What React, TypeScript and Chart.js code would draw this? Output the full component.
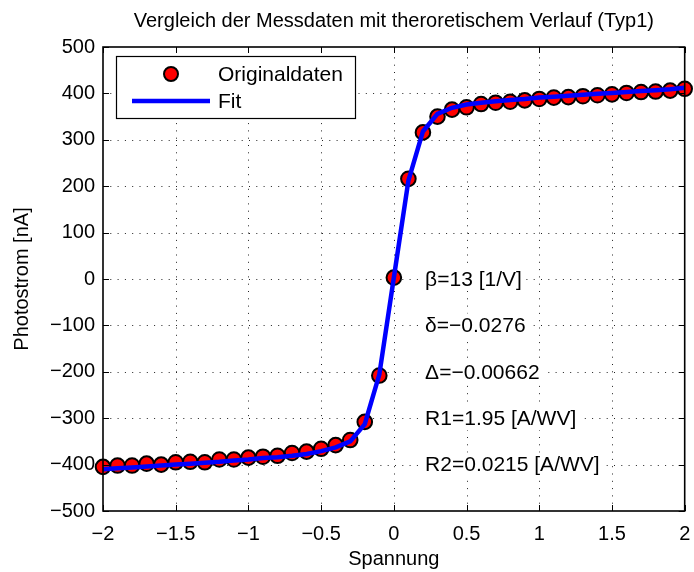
import React, { useEffect, useRef } from "react";
import { Chart, registerables } from "chart.js";

Chart.register(...registerables);

const TITLE = "Vergleich der Messdaten mit theroretischem Verlauf (Typ1)";
const X_LABEL = "Spannung";
const Y_LABEL = "Photostrom [nA]";
const LEGEND_LABELS = ["Originaldaten", "Fit"];

const xValues = [
  -2, -1.9, -1.8, -1.7, -1.6, -1.5, -1.4, -1.3, -1.2, -1.1, -1, -0.9, -0.8, -0.7, -0.6, -0.5, -0.4,
  -0.3, -0.2, -0.1, 0, 0.1, 0.2, 0.3, 0.4, 0.5, 0.6, 0.7, 0.8, 0.9, 1, 1.1, 1.2, 1.3, 1.4, 1.5, 1.6,
  1.7, 1.8, 1.9, 2,
];
const measured = [
  -405, -402, -402, -398, -400, -395, -394, -395, -389, -389, -385, -383, -381, -375, -372, -366,
  -358, -347, -308, -208, 3, 216, 316, 350, 365, 370, 377, 380, 382, 385, 388, 391, 392, 394, 396,
  398, 401, 403, 404, 406, 410,
];
const fitted = [
  -410, -408, -406, -404, -402, -400, -398, -396, -394, -391, -389, -386, -384, -381, -377, -371,
  -363, -350, -313, -206, 3, 212, 318, 356, 369, 376, 380, 383, 386, 388, 391, 393, 395, 397, 399,
  401, 403, 405, 407, 409, 412,
];

const xTicks = [-2, -1.5, -1, -0.5, 0, 0.5, 1, 1.5, 2];
const yTicks = [-500, -400, -300, -200, -100, 0, 100, 200, 300, 400, 500];

const annotationTexts = ["β=13 [1/V]", "δ=−0.0276", "Δ=−0.00662", "R1=1.95 [A/WV]", "R2=0.0215 [A/WV]"];
const annotationY = [0, -100, -200, -300, -400];
const annotationX = 0.215;

const FONT = "'Liberation Sans', Arial, Helvetica, sans-serif";
const FS = 20;

const fmt = (v: number) => (v < 0 ? "\u2212" + String(-v) : String(v));

export default function App() {
  const ref = useRef<HTMLCanvasElement | null>(null);

  useEffect(() => {
    if (!ref.current) return;

    const overlay = {
      id: "matlabOverlay",
      beforeDatasetsDraw(chart: any) {
        const { ctx, chartArea: a, scales } = chart;
        const xs = scales.x;
        const ys = scales.y;
        ctx.save();
        ctx.strokeStyle = "#222";
        ctx.lineWidth = 1;
        ctx.setLineDash([1, 6.3]);
        xTicks.forEach((t) => {
          const px = Math.round(xs.getPixelForValue(t)) + 0.5;
          if (px < a.left + 2 || px > a.right - 2) return;
          ctx.beginPath();
          ctx.moveTo(px, a.bottom);
          ctx.lineTo(px, a.top);
          ctx.stroke();
        });
        yTicks.forEach((t) => {
          const py = Math.round(ys.getPixelForValue(t)) + 0.5;
          if (py < a.top + 2 || py > a.bottom - 2) return;
          ctx.beginPath();
          ctx.moveTo(a.left, py);
          ctx.lineTo(a.right, py);
          ctx.stroke();
        });
        ctx.restore();
      },
      afterDatasetsDraw(chart: any) {
        const { ctx, chartArea: a, scales } = chart;
        const xs = scales.x;
        const ys = scales.y;
        ctx.save();
        ctx.font = `21px ${FONT}`;
        ctx.textBaseline = "middle";
        ctx.textAlign = "left";
        annotationTexts.forEach((txt, i) => {
          const px = xs.getPixelForValue(annotationX);
          const py = ys.getPixelForValue(annotationY[i]);
          const w = ctx.measureText(txt).width;
          ctx.fillStyle = "#fff";
          ctx.fillRect(px - 3, py - 12, w + 6, 24);
          ctx.fillStyle = "#000";
          ctx.fillText(txt, px, py + 1);
        });

        ctx.strokeStyle = "#000";
        ctx.lineWidth = 1.6;
        ctx.setLineDash([]);
        ctx.strokeRect(a.left, a.top, a.right - a.left, a.bottom - a.top);
        ctx.lineWidth = 1;
        const tl = 6;
        xTicks.forEach((t) => {
          const px = Math.round(xs.getPixelForValue(t)) + 0.5;
          ctx.beginPath();
          ctx.moveTo(px, a.bottom);
          ctx.lineTo(px, a.bottom - tl);
          ctx.moveTo(px, a.top);
          ctx.lineTo(px, a.top + tl);
          ctx.stroke();
        });
        yTicks.forEach((t) => {
          const py = Math.round(ys.getPixelForValue(t)) + 0.5;
          ctx.beginPath();
          ctx.moveTo(a.left, py);
          ctx.lineTo(a.left + tl, py);
          ctx.moveTo(a.right, py);
          ctx.lineTo(a.right - tl, py);
          ctx.stroke();
        });

        // legend
        const lx = a.left + 13;
        const ly = a.top + 9;
        const lw = 239;
        const lh = 62;
        ctx.fillStyle = "#fff";
        ctx.fillRect(lx, ly, lw, lh);
        ctx.lineWidth = 1.2;
        ctx.strokeStyle = "#000";
        ctx.strokeRect(lx + 0.5, ly + 0.5, lw, lh);
        ctx.beginPath();
        ctx.arc(lx + 55, ly + 18, 7, 0, Math.PI * 2);
        ctx.fillStyle = "#ff0000";
        ctx.fill();
        ctx.lineWidth = 2;
        ctx.strokeStyle = "#000";
        ctx.stroke();
        ctx.beginPath();
        ctx.moveTo(lx + 16, ly + 45);
        ctx.lineTo(lx + 94, ly + 45);
        ctx.lineWidth = 4.5;
        ctx.strokeStyle = "#0000ff";
        ctx.stroke();
        ctx.fillStyle = "#000";
        ctx.font = `21px ${FONT}`;
        ctx.textBaseline = "middle";
        ctx.fillText(LEGEND_LABELS[0], lx + 102, ly + 19);
        ctx.fillText(LEGEND_LABELS[1], lx + 102, ly + 46);

        // title
        ctx.font = `${FS}px ${FONT}`;
        ctx.textAlign = "center";
        ctx.textBaseline = "middle";
        ctx.fillText(TITLE, (a.left + a.right) / 2, 21);
        ctx.restore();
      },
    };

    const chart = new Chart(ref.current, {
      type: "scatter",
      data: {
        datasets: [
          {
            label: LEGEND_LABELS[1],
            data: xValues.map((x, i) => ({ x, y: fitted[i] })),
            showLine: true,
            borderColor: "#0000ff",
            borderWidth: 4.5,
            pointRadius: 0,
            fill: false,
            tension: 0,
            order: 1,
            clip: false as any,
          },
          {
            label: LEGEND_LABELS[0],
            data: xValues.map((x, i) => ({ x, y: measured[i] })),
            showLine: false,
            pointRadius: 7.3,
            pointBorderWidth: 2,
            pointBackgroundColor: "#ff0000",
            pointBorderColor: "#000000",
            backgroundColor: "#ff0000",
            borderColor: "#000000",
            order: 2,
            clip: false as any,
          },
        ],
      },
      options: {
        animation: false,
        responsive: false,
        devicePixelRatio: 1,
        layout: { padding: { top: 47, right: 4.5, left: 0, bottom: 0 } },
        plugins: {
          legend: { display: false },
          tooltip: { enabled: false },
          title: { display: false },
        },
        scales: {
          x: {
            type: "linear",
            min: -2,
            max: 2,
            afterBuildTicks: (s: any) => {
              s.ticks = xTicks.map((v) => ({ value: v }));
            },
            afterFit: (s: any) => {
              s.height = 61;
              s.paddingLeft = 0;
              s.paddingRight = 0;
            },
            grid: { display: false, drawTicks: false },
            border: { display: false },
            ticks: {
              padding: 11,
              color: "#000",
              font: { family: FONT, size: FS },
              maxRotation: 0,
              autoSkip: false,
              callback: (v: any) => fmt(Number(v)),
            },
            title: {
              display: true,
              text: X_LABEL,
              color: "#000",
              font: { family: FONT, size: FS },
              padding: { top: 0, bottom: 1 },
            },
          },
          y: {
            type: "linear",
            min: -500,
            max: 500,
            afterBuildTicks: (s: any) => {
              s.ticks = yTicks.map((v) => ({ value: v }));
            },
            afterFit: (s: any) => {
              s.width = 103;
              s.paddingTop = 0;
              s.paddingBottom = 0;
            },
            grid: { display: false, drawTicks: false },
            border: { display: false },
            ticks: {
              padding: 8,
              color: "#000",
              font: { family: FONT, size: FS },
              autoSkip: false,
              callback: (v: any) => fmt(Number(v)),
            },
            title: {
              display: true,
              text: Y_LABEL,
              color: "#000",
              font: { family: FONT, size: FS },
              padding: { top: 10, bottom: 0 },
            },
          },
        },
      },
      plugins: [overlay],
    } as any);

    return () => chart.destroy();
  }, []);

  return (
    <div style={{ position: "fixed", left: 0, top: 0, width: 694, height: 572, background: "#fff" }}>
      <canvas ref={ref} width={694} height={572} style={{ width: 694, height: 572, display: "block" }} />
    </div>
  );
}
